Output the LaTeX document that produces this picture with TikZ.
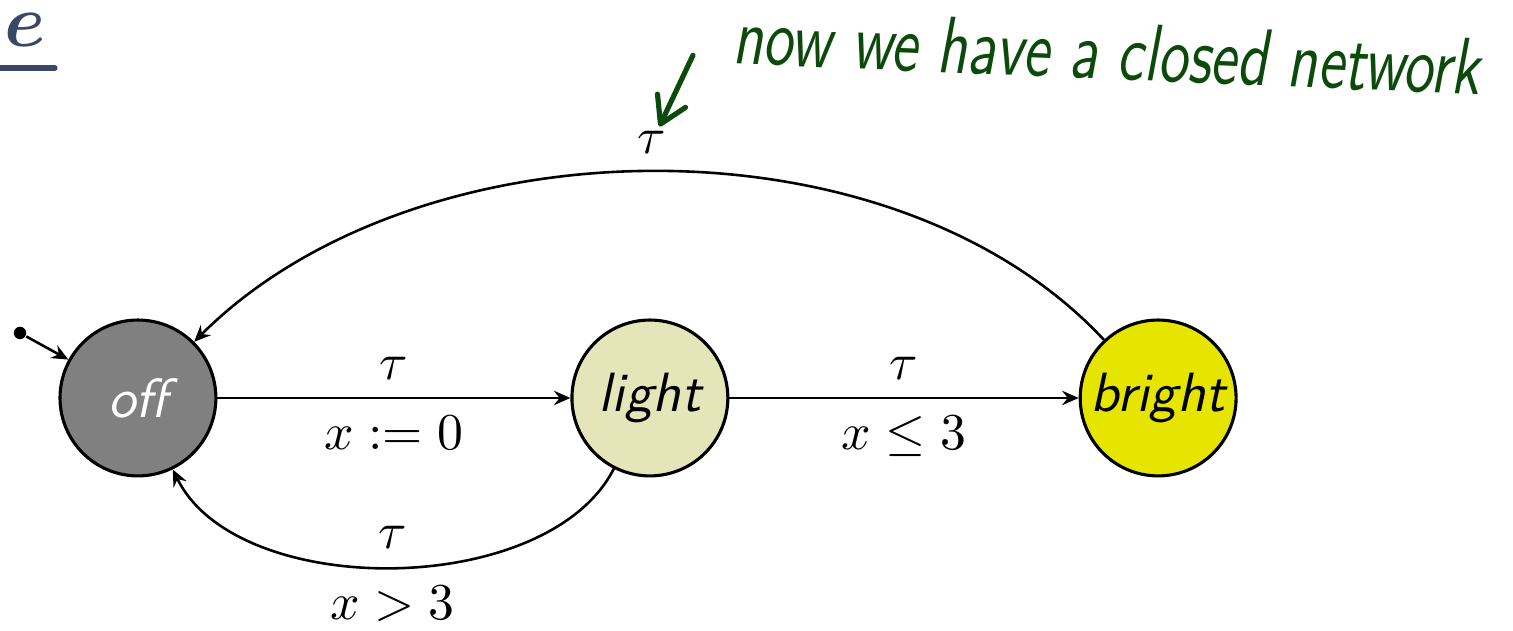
\documentclass[tikz,border=0pt]{standalone}
\usetikzlibrary{arrows.meta,positioning}

\definecolor{offgrau}{RGB}{128,128,128}
\definecolor{lichtgelb}{RGB}{229,229,186}
\definecolor{hellgelb}{RGB}{229,229,0}
\definecolor{notizgruen}{RGB}{12,74,12}
\definecolor{titelblau}{RGB}{58,72,104}

\begin{document}
\begin{tikzpicture}[
		zustand/.style={circle, draw=black, line width=0.6pt,
			minimum size=1.06cm, inner sep=0pt,
			font=\sffamily\itshape\fontsize{10.7}{13}\selectfont},
		kante/.style={line width=0.5pt,
			-{Stealth[length=3.2pt, width=2.8pt, inset=1.1pt]}},
		startpunkt/.style={circle, fill=black, inner sep=0pt,
			minimum size=2.4pt},
		notiz/.style={font=\sffamily\itshape\large, text=notizgruen},
		notizpfeil/.style={line width=1pt, line cap=round, notizgruen,
			-{Straight Barb[length=5pt, width=6pt, round]}},
		]
		\useasboundingbox (-0.938,-1.578) rectangle (9.350,2.706);
		
		% Titelrest oben links
		\node[text=titelblau, font=\Large\boldmath, inner sep=0pt,
		anchor=base west] (titel) at (-0.915,2.390) {$e$};
		\coordinate (strichA) at (-0.960,2.244);
		\coordinate (strichB) at (-0.564,2.244);
		\draw[titelblau, line width=1pt, line cap=round] (strichA) -- (strichB);
		
		% Zustaende
		\node[zustand, fill=offgrau, text=white] (off) at (0,0) {off};
		\node[zustand, fill=lichtgelb, right=2.40cm of off] (light) {light};
		\node[zustand, fill=hellgelb, right=2.375cm of light] (bright) {bright};
		
		% Startzustand
		\node[startpunkt] (start) at (-0.802,0.442) {};
		\draw[kante] (start) -- (off);
		
		% Uebergaenge
		\draw[kante] (off) -- (light)
		node[midway, above]{$\tau$}
		node[midway, below]{$x := 0$};
		\draw[kante] (light) -- (bright)
		node[midway, above]{$\tau$}
		node[midway, below]{$x \leq 3$};
		\draw[kante] (light.243) to[out=243, in=296, looseness=0.85]
		node[pos=0.5, above](unten){$\tau$}
		node[pos=0.5, below]{$x > 3$} (off.296);
		\draw[kante] (bright.133) to[out=133, in=45, looseness=0.88]
		node[pos=0.5, above](oben){$\tau$} (off.45);
		
		% handschriftliche Notiz
		\node[notiz, anchor=west, transform shape, xscale=0.98, yscale=1.3,
		rotate=-1.8] (text) at (3.924,2.466)
		{now we have a closed network};
		\coordinate (pfeilstart) at (3.774,2.330);
		\draw[notizpfeil, shorten >=-3pt] (pfeilstart) -- (oben);
		
	\end{tikzpicture}
\end{document}
